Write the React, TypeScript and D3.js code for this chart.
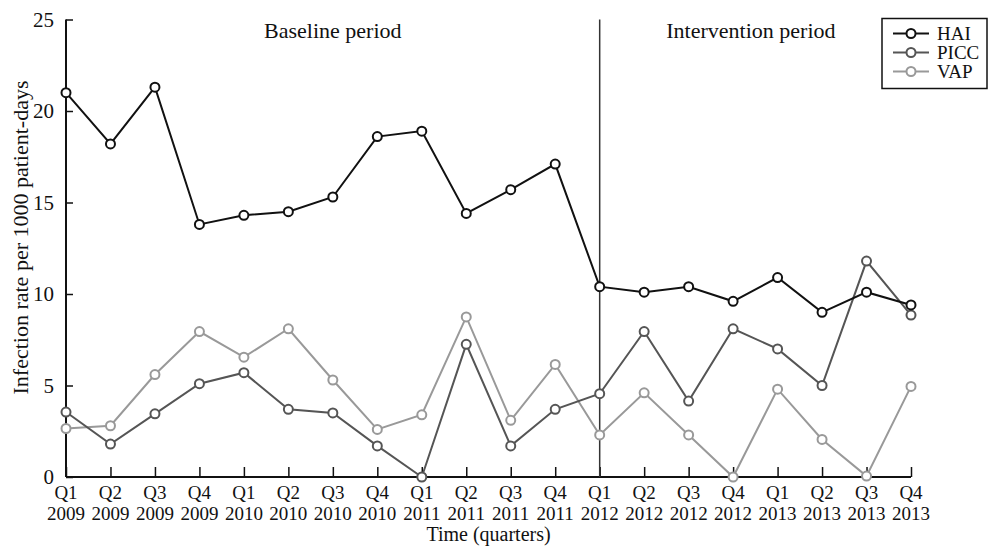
import React, { useEffect, useRef } from 'react';
import * as d3 from 'd3';

// quarters on the x axis
const quarters = ['Q1', 'Q2', 'Q3', 'Q4', 'Q1', 'Q2', 'Q3', 'Q4', 'Q1', 'Q2', 'Q3', 'Q4', 'Q1', 'Q2', 'Q3', 'Q4', 'Q1', 'Q2', 'Q3', 'Q4'];
const years = ['2009', '2009', '2009', '2009', '2010', '2010', '2010', '2010', '2011', '2011', '2011', '2011', '2012', '2012', '2012', '2012', '2013', '2013', '2013', '2013'];

// infection rate per 1000 patient-days
const hai = [21.0, 18.2, 21.3, 13.8, 14.3, 14.5, 15.3, 18.6, 18.9, 14.4, 15.7, 17.1, 10.4, 10.1, 10.4, 9.6, 10.9, 9.0, 10.1, 9.4];
const picc = [3.55, 1.8, 3.45, 5.1, 5.7, 3.7, 3.5, 1.7, 0, 7.25, 1.7, 3.7, 4.55, 7.95, 4.15, 8.1, 7.0, 5.0, 11.8, 8.85];
const vap = [2.65, 2.8, 5.6, 7.95, 6.55, 8.1, 5.3, 2.6, 3.4, 8.75, 3.1, 6.15, 2.3, 4.6, 2.3, 0, 4.8, 2.05, 0.05, 4.95];

const seriesNames = ['HAI', 'PICC', 'VAP'];
const seriesColors = ['#111', '#555', '#999'];
const yTicks = [0, 5, 10, 15, 20, 25];
const periodLabels = ['Baseline period', 'Intervention period'];
const interventionStart = 12;

function App() {
  const ref = useRef<SVGSVGElement>(null);

  useEffect(() => {
    const svg = d3.select(ref.current);
    svg.selectAll('*').remove();

    const width = 991, height = 547;
    const margin = { top: 19.5, right: 80, bottom: 70, left: 66 };
    const font = '"Liberation Serif", "Times New Roman", serif';

    const x = d3.scaleLinear().domain([0, quarters.length - 1]).range([margin.left, width - margin.right]);
    const y = d3.scaleLinear().domain([0, 25]).range([height - margin.bottom, margin.top]);

    const g = svg.append('g');

    // x axis: ticks pointing up into the plot
    const xAxis = g.append('g')
      .attr('transform', `translate(0,${y(0)})`)
      .call(d3.axisBottom(x).tickValues(d3.range(quarters.length)).tickSize(-10).tickFormat(() => ''));
    xAxis.select('.domain').attr('stroke', '#111').attr('stroke-width', 2).attr('d', `M${x(0)},0H${x(quarters.length - 1)}`);
    xAxis.selectAll('.tick line').attr('stroke', '#111').attr('stroke-width', 1.5);

    const labels = g.append('g').attr('font-family', font).attr('font-size', 19).attr('fill', '#111').attr('text-anchor', 'middle');
    quarters.forEach((q, i) => {
      labels.append('text').attr('x', x(i)).attr('y', y(0) + 22).text(q);
      labels.append('text').attr('x', x(i)).attr('y', y(0) + 43).text(years[i]);
    });
    labels.append('text').attr('x', (x(0) + x(quarters.length - 1)) / 2).attr('y', y(0) + 64)
      .attr('font-size', 20).text('Time (quarters)');

    // y axis: ticks pointing right
    const yAxis = g.append('g')
      .attr('transform', `translate(${x(0)},0)`)
      .call(d3.axisLeft(y).tickValues(yTicks).tickSize(-7).tickPadding(12));
    yAxis.select('.domain').attr('stroke', '#111').attr('stroke-width', 2).attr('d', `M0,${y(0)}V${y(25)}`);
    yAxis.selectAll('.tick line').attr('stroke', '#111').attr('stroke-width', 1.5);
    yAxis.selectAll('.tick text').attr('font-family', font).attr('font-size', 21).attr('fill', '#111');

    g.append('text')
      .attr('transform', `translate(28,${237.5}) rotate(-90)`)
      .attr('text-anchor', 'middle')
      .attr('font-family', font)
      .attr('font-size', 22)
      .attr('fill', '#111')
      .text('Infection rate per 1000 patient-days');

    // vertical divider between periods
    g.append('line')
      .attr('x1', x(interventionStart)).attr('x2', x(interventionStart))
      .attr('y1', y(25)).attr('y2', y(0))
      .attr('stroke', '#333').attr('stroke-width', 1.5);

    g.append('text').attr('x', x(6)).attr('y', y(25) + 18).attr('text-anchor', 'middle')
      .attr('font-family', font).attr('font-size', 22).attr('fill', '#111').text(periodLabels[0]);
    g.append('text').attr('x', x(15.4)).attr('y', y(25) + 18).attr('text-anchor', 'middle')
      .attr('font-family', font).attr('font-size', 22).attr('fill', '#111').text(periodLabels[1]);

    // series, drawn back to front
    const allSeries = [hai, picc, vap];
    const line = d3.line<number>().x((d, i) => x(i)).y(d => y(d));
    [2, 1, 0].forEach(k => {
      const s = g.append('g');
      s.append('path').datum(allSeries[k]).attr('d', line).attr('fill', 'none')
        .attr('stroke', seriesColors[k]).attr('stroke-width', 2);
      s.selectAll('circle').data(allSeries[k]).enter().append('circle')
        .attr('cx', (d, i) => x(i)).attr('cy', d => y(d)).attr('r', 4.5)
        .attr('fill', '#fff').attr('stroke', seriesColors[k]).attr('stroke-width', 2);
    });

    // legend
    const lg = g.append('g').attr('transform', 'translate(882,18.5)');
    lg.append('rect').attr('width', 105).attr('height', 70).attr('fill', '#fff').attr('stroke', '#111').attr('stroke-width', 1.5);
    seriesNames.forEach((name, k) => {
      const yy = 15 + k * 19;
      lg.append('line').attr('x1', 11).attr('x2', 47).attr('y1', yy).attr('y2', yy)
        .attr('stroke', seriesColors[k]).attr('stroke-width', 2);
      lg.append('circle').attr('cx', 29).attr('cy', yy).attr('r', 4.5).attr('fill', '#fff')
        .attr('stroke', seriesColors[k]).attr('stroke-width', 2);
      lg.append('text').attr('x', 55).attr('y', yy + 6).attr('font-family', font).attr('font-size', 19)
        .attr('fill', '#111').text(name);
    });
  }, []);

  return (
    <div style={{ position: 'absolute', left: 0, top: 0 }}>
      <svg ref={ref} width={991} height={547} style={{ display: 'block', background: '#fff' }} />
    </div>
  );
}

export default App;
